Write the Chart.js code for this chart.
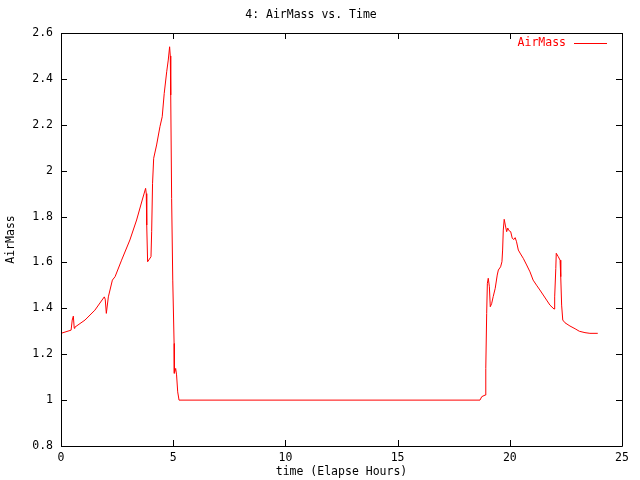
<!DOCTYPE html>
<html>
<head>
<meta charset="utf-8">
<script src="https://cdn.jsdelivr.net/npm/chart.js@4/dist/chart.umd.min.js"></script>
<style>
    html, body { margin: 0; padding: 0; background: #fff; }
    #wrap { width: 640px; height: 480px; }
</style>
</head>
<body>
<div id="wrap"><canvas id="chart" width="640" height="480"></canvas></div>
<script>
// elapsed hours and airmass
const hours = [
    0, 0.45, 0.5, 0.55, 0.59, 0.62, 1.07, 1.51, 1.93, 1.97,
    2.02, 2.11, 2.29, 2.41, 2.70, 3.07, 3.37, 3.62, 3.77, 3.80,
    3.82, 3.86, 4.01, 4.04, 4.08, 4.13, 4.26, 4.41, 4.51, 4.60,
    4.71, 4.78, 4.84, 4.87, 4.89, 4.93, 4.98, 5.04, 5.05, 5.11,
    5.15, 5.20, 5.26, 18.67, 18.75, 18.9, 18.93, 18.97, 19.0, 19.04,
    19.09, 19.13, 19.19, 19.26, 19.35, 19.44, 19.49, 19.59, 19.65, 19.68,
    19.71, 19.75, 19.80, 19.86, 19.91, 19.95, 20.04, 20.11, 20.18, 20.24,
    20.30, 20.38, 20.48, 20.60, 20.75, 20.90, 21.04, 21.19, 21.34, 21.49,
    21.64, 21.79, 21.97, 22.0, 22.05, 22.07, 22.16, 22.24, 22.27, 22.31,
    22.36, 22.46, 22.68, 22.91, 23.10, 23.35, 23.57, 23.92
];
const airmass = [
    1.291, 1.305, 1.349, 1.366, 1.313, 1.318, 1.349, 1.392, 1.45, 1.44,
    1.378, 1.45, 1.523, 1.538, 1.61, 1.698, 1.785, 1.872, 1.923, 1.90,
    1.763, 1.603, 1.625, 1.734, 1.945, 2.054, 2.112, 2.192, 2.235, 2.337,
    2.431, 2.482, 2.54, 2.50, 2.33, 1.879, 1.523, 1.247, 1.117, 1.138,
    1.11, 1.036, 1.0, 1.0, 1.015, 1.022, 1.138, 1.378, 1.509, 1.531,
    1.494, 1.407, 1.42, 1.451, 1.487, 1.545, 1.567, 1.581, 1.603, 1.654,
    1.741, 1.788, 1.763, 1.734, 1.75, 1.74, 1.734, 1.705, 1.70, 1.708,
    1.69, 1.654, 1.637, 1.618, 1.589, 1.559, 1.523, 1.501, 1.48, 1.458,
    1.436, 1.414, 1.397, 1.45, 1.574, 1.64, 1.625, 1.61, 1.538, 1.414,
    1.349, 1.337, 1.323, 1.311, 1.30, 1.294, 1.291, 1.291
];

const chartTitle = '4: AirMass vs. Time';
const xTitle = 'time (Elapse Hours)';
const yTitle = 'AirMass';
const seriesName = 'AirMass';

const FONT = 'DejaVu Sans Mono';
const tickLen = 6;

const points = hours.map((h, i) => ({ x: h, y: airmass[i] }));

// white background, frame with inward ticks on all sides, legend
const gnuplotFrame = {
    id: 'gnuplotFrame',
    beforeDraw(chart) {
        const ctx = chart.ctx;
        ctx.save();
        ctx.fillStyle = '#fff';
        ctx.fillRect(0, 0, chart.width, chart.height);
        ctx.restore();
    },
    afterDraw(chart) {
        const ctx = chart.ctx;
        const a = chart.chartArea;
        const xs = chart.scales.x;
        const ys = chart.scales.y;
        ctx.save();
        ctx.strokeStyle = '#000';
        ctx.lineWidth = 1;
        ctx.beginPath();
        ctx.rect(Math.round(a.left) + 0.5, Math.round(a.top) + 0.5,
            Math.round(a.right - a.left), Math.round(a.bottom - a.top));
        xs.ticks.forEach(t => {
            const px = Math.round(xs.getPixelForValue(t.value)) + 0.5;
            ctx.moveTo(px, a.bottom);
            ctx.lineTo(px, a.bottom - tickLen);
            ctx.moveTo(px, a.top);
            ctx.lineTo(px, a.top + tickLen);
        });
        ys.ticks.forEach(t => {
            const py = Math.round(ys.getPixelForValue(t.value)) + 0.5;
            ctx.moveTo(a.left, py);
            ctx.lineTo(a.left + tickLen, py);
            ctx.moveTo(a.right, py);
            ctx.lineTo(a.right - tickLen, py);
        });
        ctx.stroke();

        // legend, top right inside the plot
        const ds = chart.data.datasets[0];
        const ly = a.top + 10;
        ctx.fillStyle = ds.borderColor;
        ctx.font = '11.5px "' + FONT + '"';
        ctx.textAlign = 'right';
        ctx.textBaseline = 'middle';
        ctx.fillText(ds.label, a.right - 56, ly);
        ctx.strokeStyle = ds.borderColor;
        ctx.beginPath();
        ctx.moveTo(a.right - 48, ly + 0.5);
        ctx.lineTo(a.right - 15, ly + 0.5);
        ctx.stroke();
        ctx.restore();
    }
};

new Chart(document.getElementById('chart'), {
    type: 'line',
    data: {
        datasets: [{
            label: seriesName,
            data: points,
            borderColor: '#ff0000',
            borderWidth: 1,
            pointRadius: 0,
            tension: 0,
            fill: false
        }]
    },
    options: {
        responsive: false,
        animation: false,
        events: [],
        layout: {
            padding: { top: 0, left: 0, right: 18, bottom: 0 }
        },
        scales: {
            x: {
                type: 'linear',
                min: 0,
                max: 25,
                grid: { display: false, drawTicks: false },
                border: { display: false },
                ticks: {
                    stepSize: 5,
                    padding: 5,
                    color: '#000',
                    maxRotation: 0,
                    font: { family: FONT, size: 11.5 }
                },
                title: {
                    display: true,
                    text: xTitle,
                    color: '#000',
                    padding: { top: 0, bottom: 1 },
                    font: { family: FONT, size: 11.5 }
                },
                afterFit(scale) { scale.height = 34; }
            },
            y: {
                type: 'linear',
                min: 0.8,
                max: 2.6,
                grid: { display: false, drawTicks: false },
                border: { display: false },
                ticks: {
                    stepSize: 0.2,
                    padding: 8,
                    color: '#000',
                    font: { family: FONT, size: 11.5 },
                    // gnuplot style: 1, 1.2 ... 2, 2.2 (no trailing .0)
                    callback: value => String(Number(value.toFixed(1)))
                },
                title: {
                    display: true,
                    text: yTitle,
                    color: '#000',
                    padding: { top: 4, bottom: 0 },
                    font: { family: FONT, size: 11.5 }
                },
                afterFit(scale) { scale.width = 61; }
            }
        },
        plugins: {
            legend: { display: false },
            tooltip: { enabled: false },
            title: {
                display: true,
                text: chartTitle,
                color: '#000',
                padding: { top: 8, bottom: 11.2 },
                font: { family: FONT, size: 11.5, weight: 'normal' }
            }
        }
    },
    plugins: [gnuplotFrame]
});
</script>
</body>
</html>
